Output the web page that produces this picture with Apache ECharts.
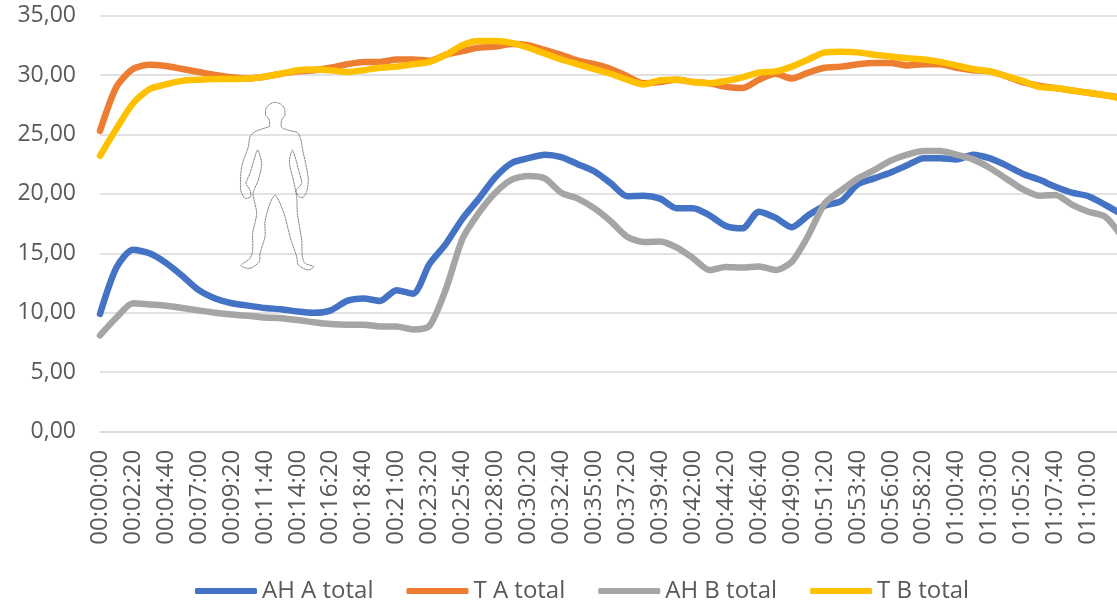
<!DOCTYPE html>
<html>
<head>
<meta charset="utf-8">
<title>AH / T total</title>
<style>
html, body { margin: 0; padding: 0; background: #fff; overflow: hidden; }
#chart_main { width: 1117px; height: 601px; }
</style>
<script src="https://cdn.jsdelivr.net/npm/echarts@6/dist/echarts.min.js"></script>
</head>
<body>
<div id="chart_main"></div>
<script>
// one sample every 70 s, every second one gets a label
var times = [
    "00:00:00", "00:01:10", "00:02:20", "00:03:30", "00:04:40", "00:05:50", "00:07:00", "00:08:10",
    "00:09:20", "00:10:30", "00:11:40", "00:12:50", "00:14:00", "00:15:10", "00:16:20", "00:17:30",
    "00:18:40", "00:19:50", "00:21:00", "00:22:10", "00:23:20", "00:24:30", "00:25:40", "00:26:50",
    "00:28:00", "00:29:10", "00:30:20", "00:31:30", "00:32:40", "00:33:50", "00:35:00", "00:36:10",
    "00:37:20", "00:38:30", "00:39:40", "00:40:50", "00:42:00", "00:43:10", "00:44:20", "00:45:30",
    "00:46:40", "00:47:50", "00:49:00", "00:50:10", "00:51:20", "00:52:30", "00:53:40", "00:54:50",
    "00:56:00", "00:57:10", "00:58:20", "00:59:30", "01:00:40", "01:01:50", "01:03:00", "01:04:10",
    "01:05:20", "01:06:30", "01:07:40", "01:08:50", "01:10:00", "01:11:10", "01:12:20"
];

var ah_a = [
    9.9, 13.8, 15.3, 15.0, 14.2, 13.1, 11.9, 11.2, 10.8, 10.6, 10.4, 10.3, 10.1, 10.0, 10.2, 11.0,
    11.2, 11.0, 11.9, 11.6, 14.1, 15.8, 17.9, 19.6, 21.4, 22.6, 23.0, 23.3, 23.1, 22.5, 21.9, 20.9,
    19.8, 19.85, 19.6, 18.8, 18.8, 18.2, 17.3, 17.1, 18.5, 18.0, 17.2, 18.2, 19.0, 19.4, 20.8, 21.3,
    21.8, 22.4, 23.0, 23.0, 22.9, 23.3, 23.0, 22.4, 21.7, 21.2, 20.6, 20.1, 19.8, 19.1, 18.3
];
var t_a = [
    25.3, 29.0, 30.5, 30.85, 30.75, 30.5, 30.25, 30.0, 29.8, 29.7, 29.85, 30.1, 30.3, 30.4, 30.6, 30.9,
    31.1, 31.1, 31.3, 31.3, 31.2, 31.7, 32.0, 32.3, 32.4, 32.6, 32.5, 32.1, 31.7, 31.2, 30.9, 30.5,
    29.9, 29.3, 29.4, 29.6, 29.4, 29.3, 29.0, 28.9, 29.6, 30.1, 29.7, 30.2, 30.6, 30.7, 30.9, 31.0,
    31.0, 30.8, 30.9, 30.9, 30.6, 30.4, 30.3, 29.9, 29.4, 29.1, 28.9, 28.7, 28.5, 28.3, 28.1
];
var ah_b = [
    8.1, 9.6, 10.8, 10.7, 10.6, 10.4, 10.2, 10.0, 9.85, 9.75, 9.6, 9.55, 9.4, 9.2, 9.05, 9.0,
    9.0, 8.85, 8.85, 8.6, 8.9, 12.0, 16.2, 18.4, 20.1, 21.2, 21.5, 21.3, 20.1, 19.6, 18.8, 17.7,
    16.4, 15.95, 16.0, 15.5, 14.6, 13.6, 13.85, 13.8, 13.9, 13.6, 14.3, 16.5, 19.2, 20.3, 21.3, 22.0,
    22.8, 23.3, 23.6, 23.6, 23.3, 22.9, 22.2, 21.3, 20.4, 19.85, 19.9, 19.1, 18.5, 18.1, 16.5
];
var t_b = [
    23.2, 25.5, 27.6, 28.8, 29.2, 29.5, 29.6, 29.65, 29.65, 29.7, 29.85, 30.1, 30.4, 30.45, 30.4, 30.25,
    30.4, 30.6, 30.7, 30.9, 31.1, 31.7, 32.5, 32.85, 32.85, 32.7, 32.3, 31.8, 31.3, 30.9, 30.5, 30.1,
    29.6, 29.2, 29.55, 29.6, 29.4, 29.3, 29.5, 29.8, 30.2, 30.3, 30.7, 31.3, 31.9, 31.95, 31.9, 31.7,
    31.55, 31.4, 31.3, 31.1, 30.8, 30.5, 30.3, 29.9, 29.5, 29.0, 28.9, 28.7, 28.5, 28.3, 28.0
];
var y_max = 35;
var y_step = 5;

var text_color = '#595959';
var font = '"Open Sans", sans-serif';

var myChart = echarts.init(document.getElementById("chart_main"));

function make_series(name, values, color) {
    return {
        name: name,
        type: 'line',
        data: values,
        symbol: 'none',
        smooth: 0.25,
        lineStyle: { color: color, width: 6.5, cap: 'round', join: 'round' },
        itemStyle: { color: color }
    };
}

// little outline of a person, loose trace of the picture in the chart
var body_outline = [
    [808, 380], [808, 360], [797, 345], [798, 325], [810, 312], [825, 307], [842, 312], [853, 325],
    [855, 345], [845, 360], [845, 382], [870, 392], [893, 398], [903, 420], [908, 450], [917, 490],
    [925, 540], [920, 575], [910, 592], [897, 590], [888, 572], [905, 550], [897, 515], [888, 480],
    [877, 450], [868, 485], [880, 540], [890, 590], [892, 640], [905, 720], [907, 770], [915, 790],
    [942, 800], [925, 810], [895, 795], [890, 770], [870, 710], [855, 650], [840, 610], [825, 585],
    [810, 610], [795, 665], [795, 710], [780, 760], [778, 785], [750, 805], [722, 797], [750, 775],
    [758, 750], [758, 700], [770, 640], [760, 590], [760, 575], [775, 540], [785, 490], [773, 450],
    [762, 480], [750, 520], [738, 550], [750, 570], [752, 590], [735, 595], [722, 570], [725, 500],
    [745, 440], [750, 410], [765, 395], [808, 380]
];

var option = {
    animation: false,
    backgroundColor: '#fff',
    textStyle: { fontFamily: font },
    grid: { left: 100, top: 15.5, width: 1021.3, height: 416.2, outerBoundsMode: 'none' },
    legend: {
        top: 574,
        left: 190,
        icon: 'roundRect',
        itemWidth: 62,
        itemHeight: 6,
        itemGap: 33,
        textStyle: { color: text_color, fontSize: 24, fontFamily: font },
        data: ['AH A total', 'T A total', 'AH B total', 'T B total']
    },
    xAxis: {
        type: 'category',
        boundaryGap: false,
        data: times,
        axisTick: { show: false },
        axisLine: { lineStyle: { color: '#D9D9D9', width: 1.5 } },
        axisLabel: {
            interval: 1,
            rotate: 90,
            margin: 18,
            showMaxLabel: false,
            color: text_color,
            fontSize: 24,
            fontFamily: font
        }
    },
    yAxis: {
        type: 'value',
        min: 0,
        max: y_max,
        interval: y_step,
        axisLine: { show: false },
        axisTick: { show: false },
        splitLine: { lineStyle: { color: '#D9D9D9', width: 1.5 } },
        axisLabel: {
            margin: 24,
            color: text_color,
            fontSize: 23,
            fontFamily: font,
            formatter: function (v) {
                return v.toFixed(2).replace('.', ',');
            }
        }
    },
    series: [
        make_series('AH A total', ah_a, '#4472C4'),
        make_series('T A total', t_a, '#ED7D31'),
        make_series('AH B total', ah_b, '#A5A5A5'),
        make_series('T B total', t_b, '#FFC000')
    ],
    graphic: [{
        type: 'polyline',
        z: 100,
        scaleX: 1 / 3,
        scaleY: 1 / 3,
        shape: { points: body_outline, smooth: 0.25 },
        style: { fill: 'none', stroke: '#555', lineWidth: 2.2, lineDash: [7, 1.5] }
    }]
};

myChart.setOption(option);
window.addEventListener("resize", function () {
    myChart.resize();
});
</script>
</body>
</html>
